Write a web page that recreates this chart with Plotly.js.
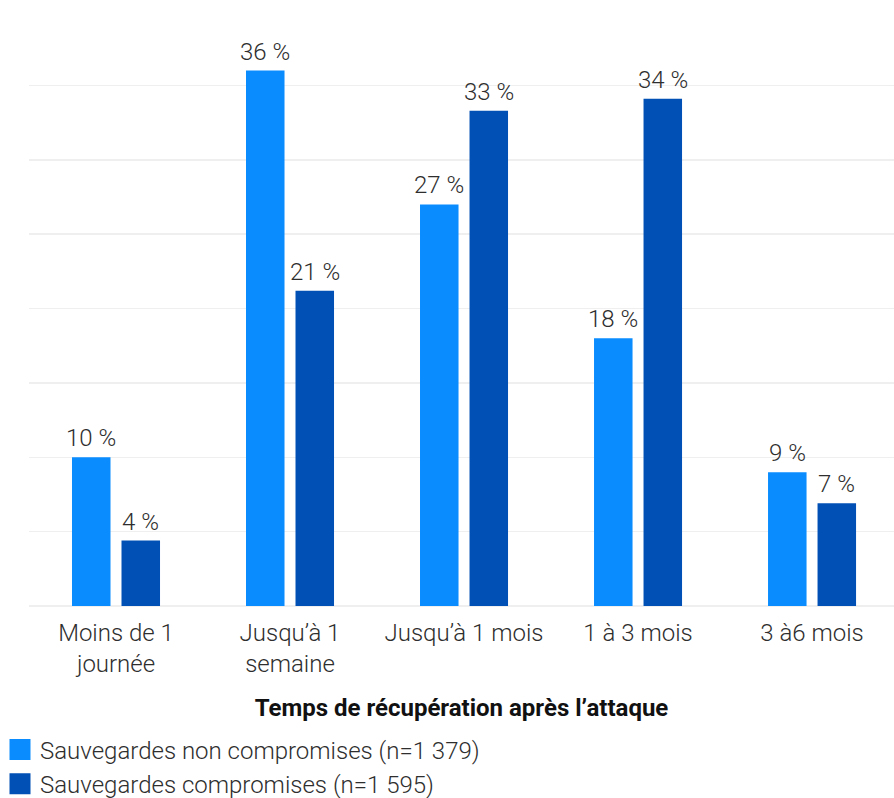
<!DOCTYPE html>
<html>
<head>
<meta charset="utf-8">
<script src="https://cdn.plot.ly/plotly-3.0.1.min.js"></script>
<style>html,body{margin:0;padding:0;background:#fff;}#chart{width:894px;height:798px;}</style>
</head>
<body>
<div id="chart"></div>
<script>
const categories = ['Moins de 1<br>journée', 'Jusqu’à 1<br>semaine', 'Jusqu’à 1 mois', '1 à 3 mois', '3 à6 mois'];
const seriesNames = ['Sauvegardes non compromises (n=1 379)', 'Sauvegardes compromises (n=1 595)'];
const nonCompromised = [10, 36, 27, 18, 9];
const compromised = [4.4, 21.2, 33.3, 34.1, 6.9];
const yTicks = [0, 5, 10, 15, 20, 25, 30, 35, 40];
const xTitle = 'Temps de récupération après l’attaque';

const colors = ['#0a8cff', '#0050b5'];
const fontFam = 'Roboto, "Liberation Sans", sans-serif';
const txtColor = '#2e2e2e';
const fs = 24;

const series = [nonCompromised, compromised];
const traces = [];
series.forEach((vals, i) => {
  traces.push({
    type: 'bar', x: categories, y: vals, name: seriesNames[i],
    marker: {color: colors[i]}, showlegend: false, hoverinfo: 'skip'
  });
});
// legend proxies
series.forEach((vals, i) => {
  traces.push({
    type: 'scatter', mode: 'markers', x: [null], y: [null], name: seriesNames[i],
    marker: {symbol: 'square', size: 16, color: colors[i], line: {color: colors[i], width: 5}},
    showlegend: true, hoverinfo: 'skip'
  });
});

const annotations = [];
const catWidthPx = (894 - 29) / 4.971;
const shift = catWidthPx * (1 - 0.431) / 4;
series.forEach((vals, i) => {
  vals.forEach((v, j) => {
    annotations.push({
      x: categories[j], y: v, xref: 'x', yref: 'y',
      text: Math.round(v) + ' %', showarrow: false,
      xshift: i === 0 ? -shift : shift, yshift: 3, yanchor: 'bottom',
      font: {family: fontFam, size: fs, color: txtColor, weight: 300}
    });
  });
});

const layout = {
  width: 894, height: 798,
  margin: {l: 29, r: 0, t: 11, b: 192, autoexpand: false},
  paper_bgcolor: '#fff', plot_bgcolor: '#fff',
  barmode: 'group', bargap: 0.431, bargroupgap: 0.222,
  font: {family: fontFam, size: fs, color: txtColor, weight: 300},
  xaxis: {
    type: 'category', range: [-0.5, 4.471], showgrid: false, showline: false, zeroline: false,
    ticks: '', tickangle: 0, ticklabelstandoff: 10,
    tickfont: {family: fontFam, size: fs, color: txtColor, weight: 300}, fixedrange: true,
    automargin: false,
    title: {text: xTitle, font: {family: fontFam, size: 24, color: '#111', weight: 'bold'}, standoff: 21}
  },
  yaxis: {
    range: [0, 40], tickvals: yTicks, showticklabels: false, showgrid: true, gridcolor: '#efefef', gridwidth: 1.5,
    zeroline: true, zerolinecolor: '#efefef', zerolinewidth: 1.5, showline: false, fixedrange: true
  },
  legend: {
    xref: 'container', yref: 'paper', x: 0, y: -0.204, xanchor: 'left', yanchor: 'top',
    orientation: 'v', itemsizing: 'trace', font: {family: fontFam, size: fs, color: txtColor, weight: 300},
    bgcolor: 'rgba(0,0,0,0)'
  },
  annotations: annotations,
  showlegend: true
};

Plotly.newPlot('chart', traces, layout, {displayModeBar: false, staticPlot: true});
</script>
</body>
</html>
